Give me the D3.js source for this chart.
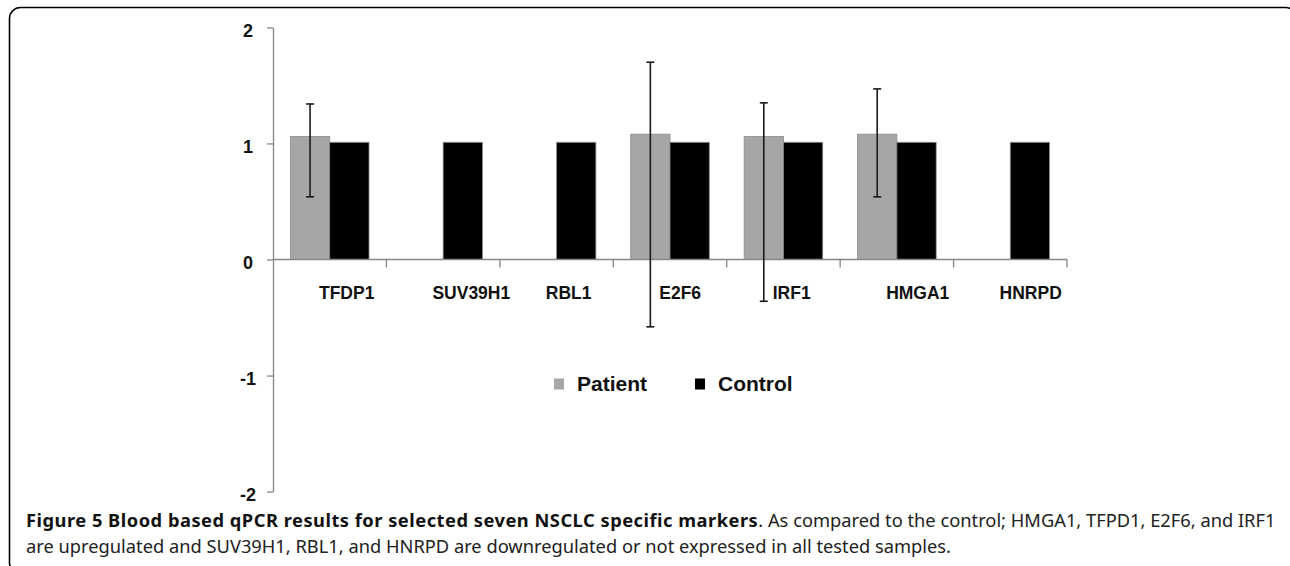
<!DOCTYPE html>
<html>
<head>
<meta charset="UTF-8" />
<style>
    body {
        margin: 0;
        padding: 0;
        background: #fff;
    }

    .axis path,
    .axis line {
        stroke: #868686;
        stroke-width: 1.3px;
    }

    .tick-label,
    .cat-label,
    .legend-label {
        font-family: "Liberation Sans", Arial, sans-serif;
        font-weight: bold;
        fill: #111;
    }

    .caption {
        font-family: "Noto Sans", sans-serif;
        font-size: 18.3px;
        fill: #222;
    }
</style>
<title>Figure 5</title>
</head>
<body>
<svg width="1290" height="566"></svg>
<script src="https://d3js.org/d3.v7.min.js"></script>
<script>
    // values
    const categories = ["TFDP1", "SUV39H1", "RBL1", "E2F6", "IRF1", "HMGA1", "HNRPD"];
    const series = ["Patient", "Control"];
    const patient = [1.06, null, null, 1.08, 1.06, 1.08, null];
    const control = [1.01, 1.01, 1.01, 1.01, 1.01, 1.01, 1.01];
    const patientLow = [0.54, null, null, -0.58, -0.36, 0.54, null];
    const patientHigh = [1.34, null, null, 1.70, 1.35, 1.47, null];
    const yTicks = [-2, -1, 0, 1, 2];
    const colors = ["#a6a6a6", "#000000"];

    var svg = d3.select("svg");

    // frame round the figure
    svg.append("rect")
        .attr("x", 9.5).attr("y", 7.5)
        .attr("width", 1287).attr("height", 566)
        .attr("rx", 11).attr("ry", 11)
        .attr("fill", "none")
        .attr("stroke", "#000")
        .attr("stroke-width", 1.6);

    var left = 273, right = 1067;

    var y = d3.scaleLinear().domain([-2, 2]).range([491.6, 27.4]);

    var xSlot = d3.scaleBand().domain(categories).range([left, right]);

    var x0 = d3.scaleBand()
        .domain(categories)
        .range([left, right])
        .paddingInner(0.307)
        .paddingOuter(0.1535);

    var x1 = d3.scaleBand().domain(series).range([0, x0.bandwidth()]);

    // y axis
    var yAxis = svg.append("g")
        .attr("class", "axis")
        .attr("transform", "translate(" + left + ",0)")
        .call(d3.axisLeft(y).tickValues(yTicks).tickSize(6).tickSizeOuter(0)
            .tickFormat(d => String(d)));

    yAxis.selectAll("text")
        .attr("class", "tick-label")
        .attr("x", -25)
        .attr("dy", "0.48em")
        .attr("text-anchor", "middle")
        .style("font-size", "18px");

    // bars
    var rows = categories.map((c, i) => ({ cat: c, values: [patient[i], control[i]] }));

    var group = svg.selectAll(".cat")
        .data(rows)
        .enter().append("g")
        .attr("class", "cat")
        .attr("transform", d => "translate(" + x0(d.cat) + ",0)");

    group.selectAll("rect")
        .data(d => d.values.map((v, j) => ({ key: series[j], value: v, j: j })).filter(d => d.value != null))
        .enter().append("rect")
        .attr("x", d => x1(d.key))
        .attr("width", x1.bandwidth())
        .attr("y", d => y(d.value))
        .attr("height", d => y(0) - y(d.value))
        .attr("fill", d => colors[d.j])
        .attr("stroke", "#8c8c8c")
        .attr("stroke-width", 0.8);

    // x axis: line at zero with ticks between categories
    var xAxis = svg.append("g").attr("class", "axis");

    xAxis.append("line")
        .attr("x1", left).attr("x2", right)
        .attr("y1", y(0)).attr("y2", y(0));

    xAxis.selectAll(".xtick")
        .data(categories)
        .enter().append("line")
        .attr("class", "xtick")
        .attr("x1", d => xSlot(d) + xSlot.step())
        .attr("x2", d => xSlot(d) + xSlot.step())
        .attr("y1", y(0))
        .attr("y2", y(0) + 8);

    // error bars on the patient bars
    var errs = categories.map((c, i) => ({ cat: c, lo: patientLow[i], hi: patientHigh[i] }))
        .filter(d => d.lo != null);

    var err = svg.selectAll(".err")
        .data(errs)
        .enter().append("g")
        .attr("class", "err")
        .attr("stroke", "#1a1a1a")
        .attr("stroke-width", 1.6)
        .attr("transform", d => "translate(" + (x0(d.cat) + x1("Patient") + x1.bandwidth() / 2) + ",0)");

    err.append("line")
        .attr("x1", 0).attr("x2", 0)
        .attr("y1", d => y(d.hi)).attr("y2", d => y(d.lo));

    err.append("line")
        .attr("x1", -4).attr("x2", 4)
        .attr("y1", d => y(d.hi)).attr("y2", d => y(d.hi));

    err.append("line")
        .attr("x1", -4).attr("x2", 4)
        .attr("y1", d => y(d.lo)).attr("y2", d => y(d.lo));

    // category labels (the figure is a little stretched vertically)
    svg.selectAll(".cat-label")
        .data(categories)
        .enter().append("text")
        .attr("class", "cat-label")
        .attr("transform", d => "translate(" + (xSlot(d) + 46) + ",298.5) scale(1,1.08)")
        .style("font-size", "17.5px")
        .text(d => d);

    // legend
    var legend = svg.append("g");
    var legendX = [554, 695];

    series.forEach((s, i) => {
        legend.append("rect")
            .attr("x", legendX[i]).attr("y", 378.5)
            .attr("width", 10).attr("height", 11)
            .attr("fill", colors[i]);
        legend.append("text")
            .attr("class", "legend-label")
            .attr("x", legendX[i] + 23)
            .attr("y", 390.5)
            .style("font-size", "21px")
            .text(s);
    });

    // caption
    var cap1 = svg.append("text").attr("class", "caption").attr("x", 26).attr("y", 526.5);
    cap1.append("tspan")
        .attr("font-weight", "bold")
        .attr("fill", "#111")
        .attr("letter-spacing", "0.5px")
        .text("Figure 5 Blood based qPCR results for selected seven NSCLC specific markers");
    cap1.append("tspan")
        .attr("letter-spacing", "0px")
        .text(". As compared to the control; HMGA1, TFPD1, E2F6, and IRF1");

    svg.append("text").attr("class", "caption").attr("x", 26).attr("y", 553)
        .text("are upregulated and SUV39H1, RBL1, and HNRPD are downregulated or not expressed in all tested samples.");
</script>
</body>
</html>
